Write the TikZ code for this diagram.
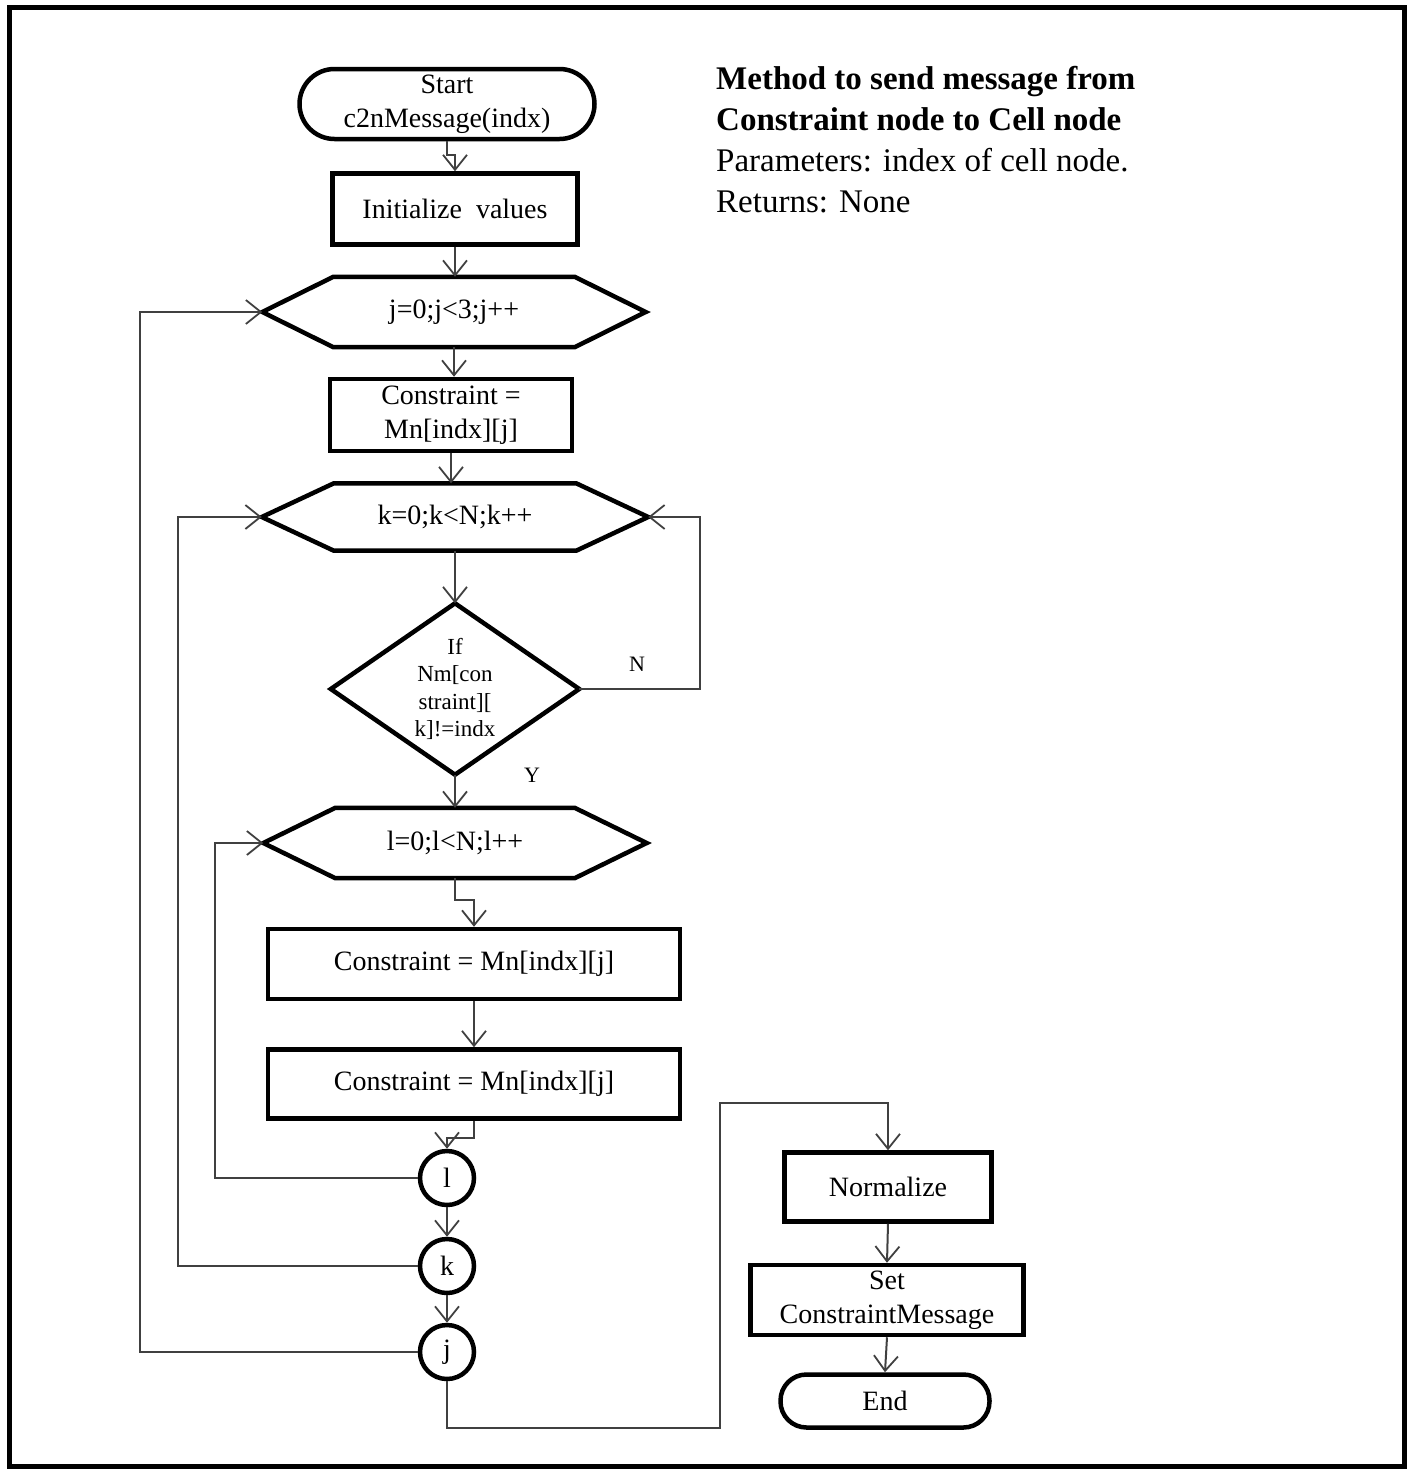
\documentclass[tikz,border=0pt]{standalone}
\usepackage{fontspec}
\setmainfont{Liberation Serif}
\usetikzlibrary{arrows.meta,calc}
\newcommand\hexpath[2]{\draw[shp] (#1.west) -- ([xshift=#2]#1.north west) -- ([xshift=-#2]#1.north east) -- (#1.east) -- ([xshift=-#2]#1.south east) -- ([xshift=#2]#1.south west) -- cycle;}
\begin{document}
\begin{tikzpicture}[x=1pt,y=-1pt,
  shp/.style={draw=black, line width=4.5pt, line join=miter},
  txt/.style={inner sep=0pt, align=center, font=\fontsize{28}{34}\selectfont},
  box/.style={txt, shp, rectangle},
  ghost/.style={txt, rectangle},
  circ/.style={shp, circle, minimum size=54pt, inner sep=0pt, font=\fontsize{28}{30}\selectfont},
  conn/.style={draw=black!75, line width=2pt, -{Straight Barb[length=15pt,width=24pt,line width=1.8pt]}},
  plain/.style={draw=black!75, line width=2pt},
  lbl/.style={inner sep=0pt, font=\fontsize{22}{24}\selectfont},
]
\useasboundingbox (0,0) rectangle (1408,1470);
\draw[line width=5pt] (9,7) rectangle (1404,1466);

% title
\node[anchor=north west, inner sep=0pt, align=left, font=\fontsize{33}{41}\selectfont] (title) at (716,66)
  {\textbf{Method to send message from}\\ \textbf{Constraint node to Cell node}\\ Parameters: index of cell node.\\ Returns: None};

% nodes
\node[box, rounded corners=35pt, minimum width=295pt, minimum height=70pt] (start) at (447,104) {Start\\c2nMessage(indx)};
\node[box, minimum width=245pt, minimum height=71pt] (init) at (455,209) {Initialize\ \ values};
\node[ghost, minimum width=383pt, minimum height=70pt] (hj) at (454,312) {j=0;j<3;j++};
\hexpath{hj}{71}
\node[box, minimum width=242pt, minimum height=72pt] (c1) at (451,415) {Constraint =\\Mn[indx][j]};
\node[ghost, minimum width=386pt, minimum height=67pt] (hk) at (455,517) {k=0;k<N;k++};
\hexpath{hk}{72}
\node[ghost, minimum width=248pt, minimum height=171pt, font=\fontsize{23}{27.5}\selectfont] (dia) at (455,689) {If\\Nm[con\\straint][\\k]!=indx};
\draw[shp] (dia.north) -- (dia.east) -- (dia.south) -- (dia.west) -- cycle;
\node[ghost, minimum width=383pt, minimum height=70pt] (hl) at (455,843) {l=0;l<N;l++};
\hexpath{hl}{72}
\node[box, minimum width=412pt, minimum height=70pt] (bA) at (474,964) {Constraint = Mn[indx][j]};
\node[box, minimum width=412pt, minimum height=69pt] (bB) at (474,1084) {Constraint = Mn[indx][j]};
\node[circ] (cl) at (447,1178) {l};
\node[circ] (ck) at (447,1266) {k};
\node[circ] (cj) at (447,1352) {j};
\node[box, minimum width=207pt, minimum height=69pt] (norm) at (888,1187) {Normalize};
\node[box, minimum width=273pt, minimum height=70pt] (setb) at (887,1300) {Set\\ConstraintMessage};
\node[box, rounded corners=26pt, minimum width=209pt, minimum height=53pt] (endt) at (885,1401) {End};

\node[lbl] (nlab) at (637,664) {N};
\node[lbl] (ylab) at (532,775) {Y};

\coordinate (xj) at (140,0);
\coordinate (xk) at (178,0);
\coordinate (xl) at (215,0);
\coordinate (xn) at (700,0);
\coordinate (bot) at (720,1428);
\coordinate (topr) at (720,1103);

% connectors
\draw[conn] (start.south) -- ++(0,14) -| (init.north);
\draw[conn] (init.south) -- (init.south |- hj.north);
\draw[conn] (hj.south) -- (hj.south |- c1.north);
\draw[conn] (c1.south) -- (c1.south |- hk.north);
\draw[conn] (hk.south) -- (dia.north);
\draw[conn] (dia.south) -- (hl.north);
\draw[conn] (hl.south) -- ++(0,22) -| (bA.north);
\draw[conn] (bA.south) -- (bB.north);
\draw[conn] (bB.south) -- ++(0,17) -| (cl.north);
\draw[conn] (cl.south) -- (ck.north);
\draw[conn] (ck.south) -- (cj.north);
\draw[conn] (cj.west) -- (cj.west -| xj) |- (hj.west);
\draw[conn] (ck.west) -- (ck.west -| xk) |- (hk.west);
\draw[conn] (cl.west) -- (cl.west -| xl) |- (hl.west);
\draw[conn] (dia.east) -- (dia.east -| xn) |- (hk.east);
\draw[conn] (cj.south) |- (bot) -- (topr) -| (norm.north);
\draw[conn] (norm.south) -- (setb.north);
\draw[conn] (setb.south) -- (endt.north);
\end{tikzpicture}
\end{document}
